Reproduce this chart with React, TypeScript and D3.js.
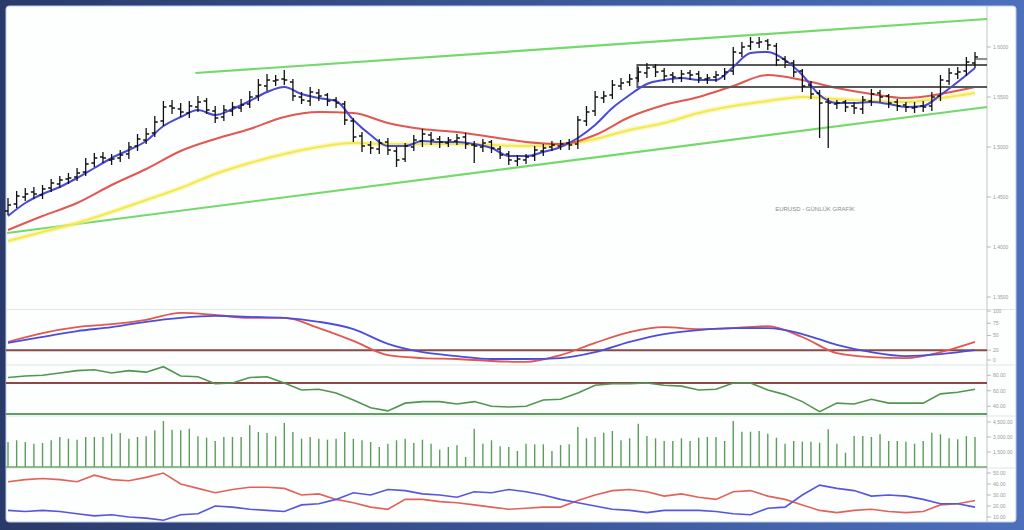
import React from "react";
import * as d3 from "d3";

const W = 1024;
const H = 530;

// daily bars (price in pips, 1600 = 1.6000)
const opens = [
  1436, 1443, 1450, 1455, 1452, 1459, 1463, 1468, 1470, 1475,
  1484, 1490, 1487, 1489, 1493, 1501, 1507, 1514, 1526, 1541,
  1538, 1534, 1540, 1546, 1536, 1530, 1536, 1539, 1543, 1551,
  1561, 1566, 1568, 1565, 1550, 1546, 1554, 1552, 1547, 1543,
  1526, 1511, 1502, 1498, 1505, 1496, 1488, 1500, 1506, 1512,
  1508, 1504, 1506, 1510, 1502, 1500, 1505, 1498, 1493, 1486,
  1487, 1491, 1496, 1500, 1501, 1504, 1503, 1526, 1536, 1549,
  1552, 1561, 1565, 1569, 1574, 1580, 1576, 1572, 1569, 1574,
  1573, 1568, 1570, 1571, 1576, 1594, 1601, 1604, 1606, 1601,
  1588, 1584, 1576, 1562, 1554, 1545, 1543, 1545, 1541, 1538,
  1546, 1554, 1551, 1545, 1542, 1539, 1541, 1541, 1551, 1566,
  1573, 1576, 1584,
];
const highs = [
  1449, 1456, 1459, 1460, 1462, 1468, 1471, 1474, 1479, 1489,
  1494, 1495, 1493, 1497, 1505, 1513, 1519, 1531, 1546, 1547,
  1544, 1546, 1551, 1549, 1541, 1542, 1545, 1548, 1556, 1568,
  1573, 1572, 1577, 1568, 1555, 1560, 1558, 1554, 1550, 1546,
  1529, 1515, 1506, 1508, 1509, 1500, 1504, 1512, 1518, 1515,
  1511, 1510, 1513, 1514, 1506, 1508, 1507, 1501, 1496, 1492,
  1493, 1501, 1503, 1506, 1507, 1508, 1531, 1541, 1556, 1556,
  1567, 1569, 1573, 1580, 1584, 1583, 1579, 1575, 1577, 1577,
  1576, 1573, 1576, 1579, 1600, 1605, 1610, 1610, 1608, 1604,
  1591, 1587, 1578, 1566, 1557, 1549, 1547, 1547, 1545, 1551,
  1558, 1557, 1553, 1548, 1545, 1545, 1546, 1555, 1572, 1579,
  1580, 1590, 1595,
];
const lows = [
  1432, 1439, 1446, 1448, 1448, 1455, 1459, 1463, 1466, 1471,
  1480, 1484, 1482, 1485, 1488, 1496, 1503, 1510, 1521, 1533,
  1530, 1529, 1535, 1533, 1524, 1526, 1531, 1535, 1539, 1546,
  1556, 1561, 1562, 1546, 1543, 1541, 1546, 1541, 1539, 1522,
  1505, 1495, 1493, 1493, 1492, 1480, 1485, 1496, 1500, 1502,
  1499, 1500, 1502, 1498, 1484, 1495, 1494, 1488, 1482, 1481,
  1483, 1486, 1491, 1496, 1497, 1497, 1498, 1521, 1531, 1544,
  1548, 1557, 1561, 1565, 1569, 1570, 1566, 1564, 1565, 1567,
  1564, 1563, 1565, 1567, 1572, 1590, 1597, 1599, 1597, 1581,
  1579, 1570, 1555, 1548, 1509, 1499, 1538, 1535, 1533, 1533,
  1541, 1545, 1539, 1536, 1535, 1534, 1535, 1536, 1546, 1562,
  1568, 1571, 1579,
];
const closes = [
  1442, 1451, 1453, 1453, 1458, 1464, 1467, 1469, 1474, 1483,
  1489, 1489, 1488, 1492, 1500, 1508, 1513, 1525, 1540, 1539,
  1535, 1541, 1545, 1537, 1529, 1537, 1540, 1542, 1550, 1562,
  1567, 1567, 1567, 1551, 1547, 1555, 1551, 1546, 1544, 1527,
  1510, 1501, 1499, 1504, 1497, 1487, 1501, 1507, 1513, 1507,
  1505, 1507, 1509, 1503, 1501, 1504, 1499, 1492, 1487, 1488,
  1490, 1497, 1499, 1502, 1503, 1502, 1527, 1535, 1550, 1551,
  1562, 1564, 1568, 1575, 1579, 1575, 1571, 1570, 1573, 1572,
  1569, 1569, 1572, 1575, 1595, 1600, 1605, 1605, 1602, 1587,
  1585, 1575, 1561, 1553, 1544, 1544, 1544, 1540, 1539, 1547,
  1553, 1550, 1544, 1541, 1540, 1540, 1540, 1550, 1567, 1574,
  1575, 1585, 1590,
];
const volumes = [
  2500, 2670, 2500, 2330, 2400, 2670, 3000, 2830, 2730, 3000,
  3000, 3000, 3330, 3400, 2830, 3000, 3070, 3670, 4600, 3730,
  3670, 3830, 3070, 2930, 2600, 3000, 3000, 3000, 4170, 3500,
  3400, 3070, 4400, 3500, 2830, 3000, 2830, 2730, 2830, 3500,
  2830, 2670, 2500, 2000, 2330, 2670, 2830, 2400, 2730, 2330,
  1730, 2000, 2170, 1000, 3830, 2330, 2670, 2070, 2000,
  1600, 2330, 2270, 2270, 1600, 2200, 2270, 4000, 2870, 3000,
  3430, 3600, 2670, 2870, 4330, 3100, 2870, 2600, 2600, 2870,
  2600, 2930, 3000, 3000, 2600, 4600, 3530, 3530, 3600, 3330,
  2930, 2330, 2600, 2530, 2530, 2430, 3770, 2330, 1430, 3100,
  3100, 3000, 3270, 2600, 2600, 2530, 2330, 2600, 3430, 3270,
  2870, 2770, 3100, 3000,
];
const N = closes.length;

// moving averages, read every 2nd / 4th bar
const idx2 = d3.range(0, N, 2);
const idx4 = d3.range(0, N, 4);
const maFast = [
  1431, 1444, 1453, 1460, 1469, 1479, 1489, 1497, 1506, 1521,
  1530, 1537, 1532, 1538, 1546, 1555, 1560, 1553, 1549, 1546,
  1527, 1512, 1501, 1501, 1506, 1505, 1505, 1503, 1499, 1491,
  1491, 1495, 1500, 1509, 1522, 1539, 1552, 1563, 1567, 1569,
  1567, 1567, 1580, 1594, 1595, 1587, 1572, 1552, 1544, 1544,
  1545, 1543, 1540, 1541, 1552, 1565, 1579,
];
const maMid = [
  1417, 1431, 1444, 1462, 1478, 1496, 1508, 1518, 1530, 1535,
  1534, 1524, 1518, 1515, 1510, 1505, 1503, 1512, 1530, 1542,
  1550, 1561, 1572, 1567, 1559, 1553, 1549, 1553, 1560,
];
const maSlow = [
  1406, 1415, 1424, 1435, 1447, 1459, 1473, 1484, 1493, 1500,
  1504, 1503, 1503, 1503, 1502, 1501, 1502, 1508, 1517, 1524,
  1534, 1541, 1546, 1550, 1548, 1546, 1545, 1549, 1554,
];

// trend channel and range box: [bar index, price]
const channelUpper = [[21.7, 1574], [113.4, 1628]];
const channelLower = [[-0.1, 1414], [113.4, 1540]];
const rangeBox = { start: 72.9, end: 113.4, top: 1582, bottom: 1560 };

// stochastic
const stochK = [
  37, 55, 67, 73, 82, 96, 92, 86, 86, 65, 39, 10, 4, 2, -2,
  -4, 10, 35, 57, 67, 63, 65, 69, 47, 14, 6, 4, 16, 37,
];
const stochD = [
  35, 47, 59, 67, 78, 86, 90, 88, 86, 78, 63, 33, 16, 8, 2,
  2, 4, 16, 37, 53, 61, 65, 65, 53, 31, 16, 8, 12, 20,
];
// rsi
const rsi = [
  77, 79, 80, 83, 86, 87, 83, 86, 84, 91,
  79, 78, 69, 70, 77, 78, 70, 61, 62, 57,
  48, 38, 34, 44, 46, 46, 43, 46, 40, 39,
  40, 48, 49, 57, 67, 69, 69, 70, 67, 66,
  61, 62, 70, 70, 61, 55, 46, 33, 44, 43,
  49, 44, 44, 44, 56, 58, 62,
];
// dmi
const diMinus = [
  42, 44, 45, 44, 42, 48, 44, 43, 46, 50,
  40, 36, 32, 35, 37, 37, 36, 30, 31, 26,
  23, 19, 17, 26, 26, 24, 23, 21, 19, 17,
  18, 19, 19, 25, 30, 34, 35, 33, 29, 31,
  28, 26, 33, 34, 29, 26, 21, 16, 14, 16,
  17, 15, 14, 15, 21, 22, 25,
];
const diPlus = [
  16, 15, 16, 15, 13, 11, 12, 10, 9, 7,
  12, 13, 20, 19, 17, 16, 15, 21, 22, 26,
  32, 30, 35, 34, 31, 30, 28, 33, 32, 35,
  33, 30, 26, 23, 20, 17, 16, 14, 16, 16,
  16, 15, 13, 12, 18, 19, 30, 39, 36, 34,
  29, 30, 29, 26, 22, 22, 19,
];

const priceTicks = [1600, 1550, 1500, 1450, 1400, 1350];
const stochTicks = [100, 75, 50, 20, 0];
const rsiTicks = [80, 60, 40];
const volTicks = [1500, 3000, 4500];
const dmiTicks = [10, 20, 30, 40, 50];
const title = "EURUSD - GÜNLÜK GRAFİK";

const AX = 987;
const LEFT = 6;

export default function App() {
  const x = d3.scaleLinear().domain([0, N - 1]).range([8, 975]);
  const yP = d3.scaleLinear().domain([1337, 1641]).range([310, 6]);
  const yS = d3.scaleLinear().domain([0, 100]).range([360, 311]);
  const yR = d3.scaleLinear().domain([30, 70]).range([414, 383]);
  const yV = d3.scaleLinear().domain([0, 5000]).range([467, 417]);
  const yD = d3.scaleLinear().domain([0, 50]).range([528, 473]);

  const smooth = (ys: d3.ScaleLinear<number, number>, idx: number[], vals: number[]) =>
    d3
      .line<number>()
      .x((_, i) => x(idx[i]))
      .y((v) => ys(v))
      .curve(d3.curveMonotoneX)(vals) || "";
  const jag = (ys: d3.ScaleLinear<number, number>, idx: number[], vals: number[]) =>
    d3
      .line<number>()
      .x((_, i) => x(idx[i]))
      .y((v) => ys(v))(vals) || "";
  const seg = (pts: number[][]) =>
    d3.line<number[]>().x((p) => x(p[0])).y((p) => yP(p[1]))(pts) || "";

  const barPath = closes
    .map((c, i) => {
      const cx = x(i);
      return `M${cx},${yP(highs[i])}V${yP(lows[i])}M${cx - 3},${yP(opens[i])}H${cx}M${cx},${yP(c)}H${cx + 3}`;
    })
    .join("");

  const label = { fontSize: 5, fill: "#9a9a9a", fontFamily: "Liberation Sans, Arial, sans-serif" };
  const tickGroup = (ys: d3.ScaleLinear<number, number>, ticks: number[], fmt: (v: number) => string) =>
    ticks.map((t) => (
      <g key={t}>
        <line x1={AX} x2={AX + 4} y1={ys(t)} y2={ys(t)} stroke="#aaa" strokeWidth={0.8} />
        <text x={AX + 6} y={ys(t) + 1.8} {...label}>
          {fmt(t)}
        </text>
      </g>
    ));

  return (
    <svg width={W} height={H} style={{ position: "absolute", left: 0, top: 0 }}>
      <defs>
        <linearGradient id="frame" x1="0" x2="1" y1="0" y2="0">
          <stop offset="0" stopColor="#2a3a68" />
          <stop offset="0.5" stopColor="#3a5596" />
          <stop offset="1" stopColor="#4d70bd" />
        </linearGradient>
      </defs>
      <rect width={W} height={H} fill="url(#frame)" />
      <rect x={LEFT} y={6} width={1010} height={516} rx={3} fill="#fdfefe" stroke="#b9cdee" strokeWidth={1} />

      {/* panel separators */}
      {[309.5, 365, 416, 468].map((yy) => (
        <line key={yy} x1={LEFT} x2={1015} y1={yy} y2={yy} stroke="#e2e6e6" strokeWidth={1} />
      ))}
      <line x1={AX} x2={AX} y1={6} y2={522} stroke="#c4c4c4" strokeWidth={1} />

      {/* price panel */}
      <path d={seg(channelUpper)} stroke="#74d96a" strokeWidth={2.2} fill="none" />
      <path d={seg(channelLower)} stroke="#74d96a" strokeWidth={2.2} fill="none" />
      <path d={smooth(yP, idx4, maSlow)} stroke="#f7f08a" strokeWidth={5} fill="none" opacity={0.5} />
      <path d={smooth(yP, idx4, maSlow)} stroke="#f2ea4c" strokeWidth={2} fill="none" />
      <path d={smooth(yP, idx4, maMid)} stroke="#e2574f" strokeWidth={2} fill="none" />
      <path
        d={`M${x(rangeBox.end)},${yP(rangeBox.top)}H${x(rangeBox.start)}V${yP(rangeBox.bottom)}H${x(rangeBox.end)}`}
        stroke="#585858"
        strokeWidth={2}
        fill="none"
      />
      <path d={smooth(yP, idx2, maFast)} stroke="#4949d6" strokeWidth={2} fill="none" />
      <path d={barPath} stroke="#111" strokeWidth={1.3} fill="none" />
      <line x1={x(N - 1)} x2={AX} y1={yP(closes[N - 1]) + 2} y2={yP(closes[N - 1]) + 2} stroke="#444" strokeWidth={1.2} />
      <text x={815} y={211} textAnchor="middle" {...label} fontSize={6} fill="#8a8a8a">
        {title}
      </text>
      {tickGroup(yP, priceTicks, (v) => (v / 1000).toFixed(4))}

      {/* stochastic */}
      <line x1={LEFT} x2={AX} y1={yS(20)} y2={yS(20)} stroke="#8f4646" strokeWidth={2} />
      <path d={smooth(yS, idx4, stochK)} stroke="#e2574f" strokeWidth={1.8} fill="none" />
      <path d={smooth(yS, idx4, stochD)} stroke="#4d4ddc" strokeWidth={1.8} fill="none" />
      {tickGroup(yS, stochTicks, (v) => String(v))}

      {/* rsi */}
      <line x1={LEFT} x2={AX} y1={yR(70)} y2={yR(70)} stroke="#8f4646" strokeWidth={2} />
      <line x1={LEFT} x2={AX} y1={yR(30)} y2={yR(30)} stroke="#5f9f5f" strokeWidth={2} />
      <path d={jag(yR, idx2, rsi)} stroke="#4f974f" strokeWidth={1.6} fill="none" />
      {tickGroup(yR, rsiTicks, (v) => v.toFixed(2))}

      {/* volume */}
      {volumes.map((v, i) => (
        <line key={i} x1={x(i)} x2={x(i)} y1={yV(0)} y2={yV(v)} stroke="#5e9c5e" strokeWidth={1.4} />
      ))}
      <line x1={LEFT} x2={AX} y1={yV(0)} y2={yV(0)} stroke="#6aa86a" strokeWidth={1.6} />
      {tickGroup(yV, volTicks, (v) => d3.format(",.2f")(v))}

      {/* dmi */}
      <path d={jag(yD, idx2, diMinus)} stroke="#e2625a" strokeWidth={1.6} fill="none" />
      <path d={jag(yD, idx2, diPlus)} stroke="#5656de" strokeWidth={1.6} fill="none" />
      {tickGroup(yD, dmiTicks, (v) => v.toFixed(2))}
    </svg>
  );
}
